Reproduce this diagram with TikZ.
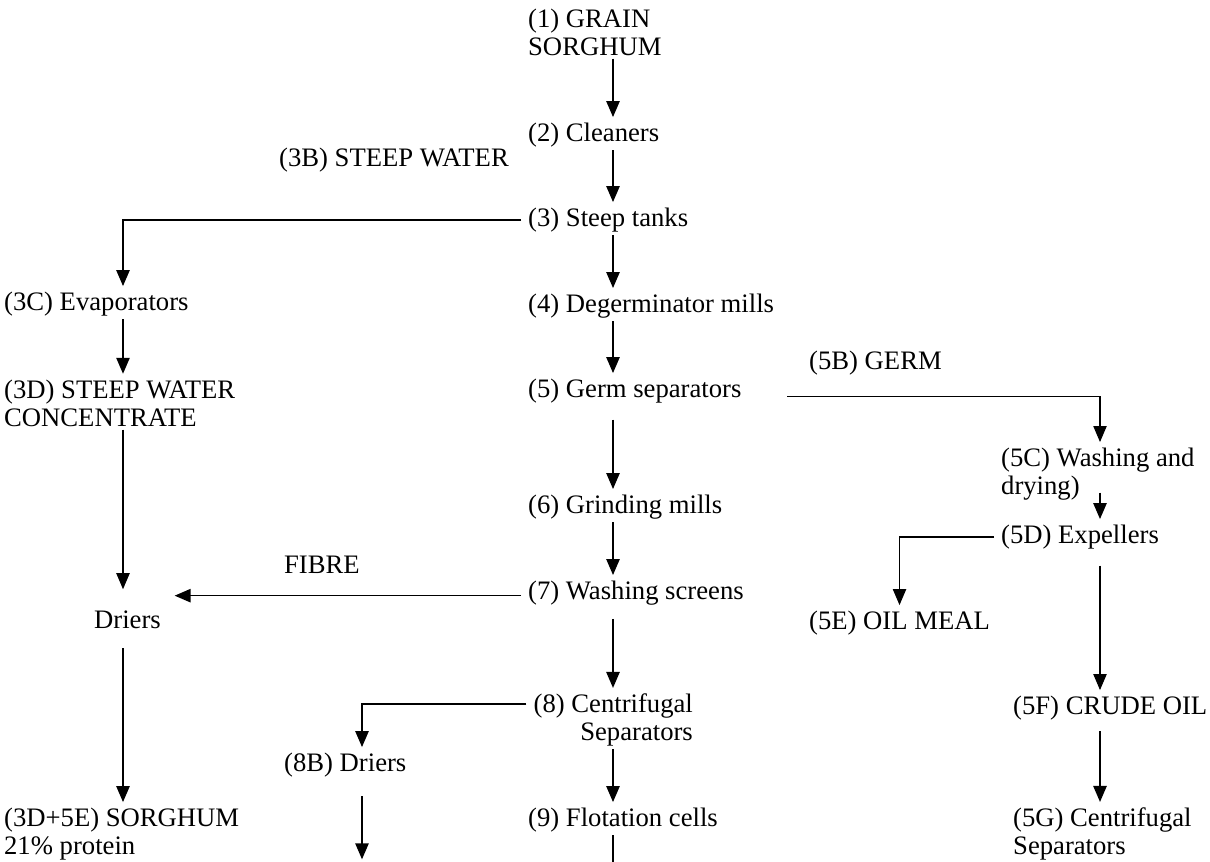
\documentclass[tikz,border=0pt]{standalone}
\usepackage{fontspec}
\setmainfont{Liberation Serif}
\usetikzlibrary{arrows.meta}

\tikzset{every picture/.style={line width=0.75pt}}
\tikzset{
  txt/.style={anchor=west, inner sep=2pt, align=left, font=\fontsize{20}{21}\selectfont},
  flow/.style={draw, line width=1.2pt, shorten >=2pt, -{Triangle[length=12pt,width=10pt]}},
  thinflow/.style={draw, line width=0.8pt, shorten >=2pt, -{Triangle[length=12pt,width=10pt]}},
  plain/.style={draw, line width=1.1pt}
}

\begin{document}
\begin{tikzpicture}[x=0.75pt,y=0.75pt,yscale=-1,xscale=1]
    \useasboundingbox (0,0) rectangle (1210,862);

    %Column coordinates
    \coordinate (colL) at (123,0);
    \coordinate (colC) at (613,0);
    \coordinate (col8B) at (362,0);
    \coordinate (colR) at (1100,0);
    \coordinate (bot8B) at (362,862);
    \coordinate (bot9) at (613,862);

    % Text Node
    \node (n1) at (525,32) [txt] {(1) GRAIN\\SORGHUM};
    % Text Node
    \node (n2) at (525,135) [txt] {(2) Cleaners};
    % Text Node
    \node (n3B) at (276,160) [txt] {(3B) STEEP WATER};
    % Text Node
    \node (n3) at (525,220) [txt] {(3) Steep tanks};
    % Text Node
    \node (n3C) at (1,304) [txt] {(3C) Evaporators};
    % Text Node
    \node (n4) at (525,306) [txt] {(4) Degerminator mills};
    % Text Node
    \node (n3D) at (1,403) [txt] {(3D) STEEP WATER\\CONCENTRATE};
    % Text Node
    \node (n5B) at (806,363) [txt] {(5B) GERM};
    % Text Node
    \node (n5) at (525,391) [txt] {(5) Germ separators};
    % Text Node
    \node (n5C) at (998,474) [txt] {(5C) Washing and\\drying)};
    % Text Node
    \node (n6) at (525,507) [txt] {(6) Grinding mills};
    % Text Node
    \node (n5D) at (998,537) [txt] {(5D) Expellers};
    % Text Node
    \node (nFib) at (281,565) [txt] {FIBRE};
    % Text Node
    \node (n7) at (525,593) [txt] {(7) Washing screens};
    % Text Node
    \node (nDr) at (83,620) [txt, inner xsep=8pt] {Driers};
    % Text Node
    \node (n5E) at (806,623) [txt] {(5E) OIL MEAL};
    % Text Node
    \node (n8) at (696,720) [txt, anchor=east, align=right] {(8) Centrifugal\\Separators};
    % Text Node
    \node (n5F) at (1010,708) [txt] {(5F) CRUDE OIL};
    % Text Node
    \node (n8B) at (281,765) [txt] {(8B) Driers};
    % Text Node
    \node (n3D5E) at (1,834) [txt] {(3D+5E) SORGHUM\\21\% protein};
    % Text Node
    \node (n9) at (525,820) [txt] {(9) Flotation cells};
    % Text Node
    \node (n5G) at (1010,834) [txt] {(5G) Centrifugal\\Separators};

    %Straight Lines: main column
    \draw [flow] (n1.south -| colC) -- (n2.north -| colC);
    \draw [flow] (n2.south -| colC) -- (n3.north -| colC);
    \draw [flow] (n3.south -| colC) -- (n4.north -| colC);
    \draw [flow] (n4.south -| colC) -- (n5.north -| colC);
    \draw [flow] ([yshift=10pt]n5.south -| colC) -- (n6.north -| colC);
    \draw [flow] (n6.south -| colC) -- (n7.north -| colC);
    \draw [flow] ([yshift=8pt]n7.south -| colC) -- (n8.north -| colC);
    \draw [flow] (n8.south -| colC) -- (n9.north -| colC);
    \draw [plain] (n9.south -| colC) -- (bot9);

    %Straight Lines: steep water branch
    \draw [flow] ([xshift=-3pt]n3.west) -| (n3C.north -| colL);
    \draw [flow] (n3C.south -| colL) -- (n3D.north -| colL);
    \draw [thinflow] (n3D.south -| colL) -- ([yshift=-12pt]nDr.north -| colL);
    \draw [flow] ([yshift=12pt]nDr.south -| colL) -- (n3D5E.north -| colL);

    %Straight Lines: fibre
    \draw [flow] ([xshift=-3pt,yshift=2pt]n7.west) -- ([yshift=2pt]n7.west -| nDr.east);

    %Straight Lines: centrifugal separators
    \draw [flow] ([xshift=-3pt,yshift=10pt]n8.north west) -| (n8B.north -| col8B);
    \draw [flow] ([yshift=12pt]n8B.south -| col8B) -- (bot8B);

    %Straight Lines: germ branch
    \draw [thinflow] ([xshift=32pt,yshift=4pt]n5.east) -| (n5C.north -| colR);
    \draw [flow] ([yshift=-8pt]n5C.south -| colR) -- (n5D.north -| colR);
    \draw [thinflow] ([xshift=-3pt]n5D.west) -| (n5E.north);
    \draw [thinflow] ([yshift=10pt]n5D.south -| colR) -- (n5F.north -| colR);
    \draw [flow] ([yshift=6pt]n5F.south -| colR) -- (n5G.north -| colR);

\end{tikzpicture}
\end{document}
